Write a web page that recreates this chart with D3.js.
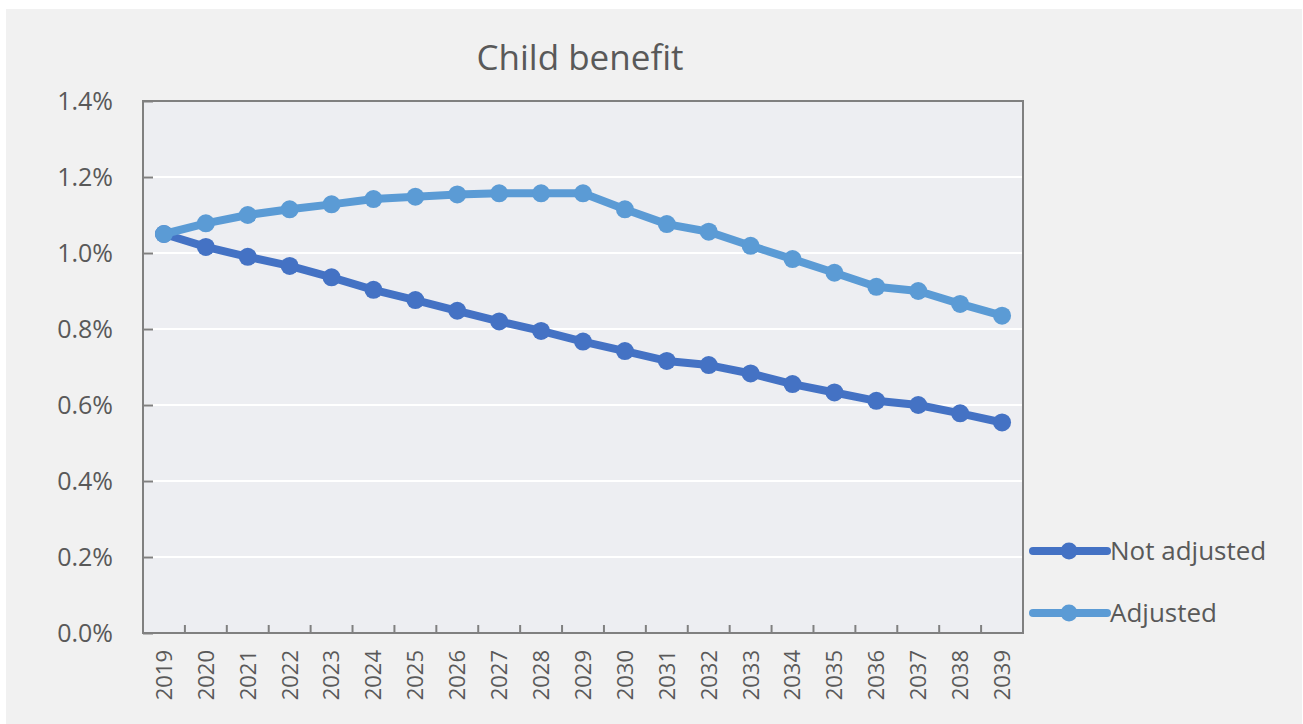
<!DOCTYPE html>
<html>
<head>
<meta charset="utf-8">
<script src="https://cdn.jsdelivr.net/npm/d3@7"></script>
<style>
  body { margin: 0; background: #ffffff; }
  text { font-family: "Open Sans", sans-serif; fill: #595959; }
</style>
</head>
<body>
<script>
// chart data
var years = ['2019', '2020', '2021', '2022', '2023', '2024', '2025', '2026', '2027', '2028', '2029',
             '2030', '2031', '2032', '2033', '2034', '2035', '2036', '2037', '2038', '2039'];
var notAdjusted = [1.050, 1.016, 0.990, 0.966, 0.936, 0.903, 0.876, 0.848, 0.820, 0.795, 0.767,
                   0.742, 0.716, 0.705, 0.683, 0.655, 0.633, 0.611, 0.600, 0.578, 0.554];
var adjusted = [1.050, 1.078, 1.100, 1.115, 1.128, 1.142, 1.148, 1.154, 1.157, 1.157, 1.157,
                1.115, 1.076, 1.056, 1.019, 0.984, 0.948, 0.911, 0.900, 0.866, 0.835];
var yTicks = [0, 0.2, 0.4, 0.6, 0.8, 1.0, 1.2, 1.4];
var seriesNames = ['Not adjusted', 'Adjusted'];
var seriesColors = ['#4472c4', '#5b9bd5'];

var width = 1303, height = 724;
var plot = { left: 143, right: 1023, top: 101, bottom: 633 };

var svg = d3.select('body').append('svg')
  .attr('width', width)
  .attr('height', height);

// outer grey panel
svg.append('rect')
  .attr('x', 6).attr('y', 9)
  .attr('width', width - 7).attr('height', height - 9)
  .attr('fill', '#f1f1f1');

// plot area
svg.append('rect')
  .attr('x', plot.left).attr('y', plot.top)
  .attr('width', plot.right - plot.left).attr('height', plot.bottom - plot.top)
  .attr('fill', '#edeef2');

var x = d3.scaleBand().domain(years).range([plot.left, plot.right]).padding(0);
var y = d3.scaleLinear().domain([0, 1.4]).range([plot.bottom, plot.top]);

// white gridlines
svg.append('g').selectAll('line')
  .data(yTicks.slice(1, -1))
  .enter().append('line')
  .attr('x1', plot.left).attr('x2', plot.right)
  .attr('y1', function(d) { return y(d); })
  .attr('y2', function(d) { return y(d); })
  .attr('stroke', '#ffffff')
  .attr('stroke-width', 2);

// y axis, ticks pointing into the plot
var yAxis = svg.append('g')
  .attr('transform', 'translate(' + plot.left + ',0)')
  .call(d3.axisLeft(y).tickValues(yTicks).tickSizeInner(-10).tickSizeOuter(0).tickPadding(30)
    .tickFormat(function(d) { return d.toFixed(1) + '%'; }));
yAxis.select('.domain').remove();
yAxis.selectAll('.tick line').attr('stroke', '#808080').attr('stroke-width', 2);
yAxis.selectAll('.tick text').style('font-size', '25px').attr('fill', '#595959');

// x axis labels at category centres
var xAxis = svg.append('g')
  .attr('transform', 'translate(0,' + plot.bottom + ')')
  .call(d3.axisBottom(x).tickSize(0));
xAxis.select('.domain').remove();
xAxis.selectAll('.tick text')
  .style('font-size', '22px')
  .attr('fill', '#595959')
  .attr('text-anchor', 'end')
  .attr('transform', 'rotate(-90)')
  .attr('x', -17)
  .attr('y', 0)
  .attr('dy', '0.36em');

// x ticks on category boundaries, pointing up
svg.append('g').selectAll('line')
  .data(years.slice(0, -1))
  .enter().append('line')
  .attr('x1', function(d) { return x(d) + x.bandwidth(); })
  .attr('x2', function(d) { return x(d) + x.bandwidth(); })
  .attr('y1', plot.bottom)
  .attr('y2', plot.bottom - 8)
  .attr('stroke', '#808080')
  .attr('stroke-width', 2);

// plot border
svg.append('rect')
  .attr('x', plot.left).attr('y', plot.top)
  .attr('width', plot.right - plot.left).attr('height', plot.bottom - plot.top)
  .attr('fill', 'none')
  .attr('stroke', '#808080')
  .attr('stroke-width', 2);

// series
var series = [notAdjusted, adjusted];
var line = d3.line()
  .x(function(d, i) { return x(years[i]) + x.bandwidth() / 2; })
  .y(function(d) { return y(d); });

series.forEach(function(values, s) {
  var g = svg.append('g');
  g.append('path')
    .datum(values)
    .attr('d', line)
    .attr('fill', 'none')
    .attr('stroke', seriesColors[s])
    .attr('stroke-width', 8)
    .attr('stroke-linejoin', 'round');
  g.selectAll('circle')
    .data(values)
    .enter().append('circle')
    .attr('cx', function(d, i) { return x(years[i]) + x.bandwidth() / 2; })
    .attr('cy', function(d) { return y(d); })
    .attr('r', 9)
    .attr('fill', seriesColors[s]);
});

// legend
var legend = svg.append('g').selectAll('g')
  .data(seriesNames)
  .enter().append('g')
  .attr('transform', function(d, i) { return 'translate(1033,' + (551 + i * 62) + ')'; });
legend.append('line')
  .attr('x1', 0).attr('x2', 74)
  .attr('stroke', function(d, i) { return seriesColors[i]; })
  .attr('stroke-width', 8)
  .attr('stroke-linecap', 'round');
legend.append('circle')
  .attr('cx', 36).attr('r', 8.5)
  .attr('fill', function(d, i) { return seriesColors[i]; });
legend.append('text')
  .attr('x', 77)
  .attr('dy', '0.35em')
  .style('font-size', '26px')
  .text(function(d) { return d; });

// title
svg.append('text')
  .attr('x', 580)
  .attr('y', 70)
  .attr('text-anchor', 'middle')
  .style('font-size', '35px')
  .text('Child benefit');
</script>
</body>
</html>
